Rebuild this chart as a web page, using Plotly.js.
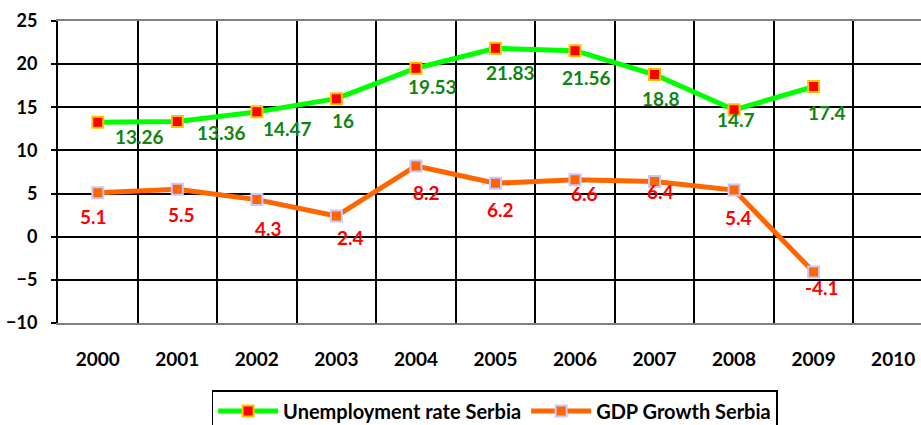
<!DOCTYPE html>
<html>
<head>
<meta charset="utf-8">
<script src="https://cdn.plot.ly/plotly-3.0.1.min.js"></script>
<style>html,body{margin:0;padding:0;overflow:hidden;background:#fff}</style>
</head>
<body>
<div id="chart" style="width:921px;height:425px"></div>
<script>
// ---- data ----
const years = ["2000","2001","2002","2003","2004","2005","2006","2007","2008","2009","2010"];
const unemploymentYears = ["2000","2001","2002","2003","2004","2005","2006","2007","2008","2009"];
const unemploymentRate = [13.26, 13.36, 14.47, 16, 19.53, 21.83, 21.56, 18.8, 14.7, 17.4];
const gdpYears = ["2000","2001","2002","2003","2004","2005","2006","2007","2008","2009"];
const gdpGrowth = [5.1, 5.5, 4.3, 2.4, 8.2, 6.2, 6.6, 6.4, 5.4, -4.1];
const seriesNames = ["Unemployment rate Serbia", "GDP Growth Serbia"];

// ---- label offsets (style, px) ----
const uShiftX = [42, 44, 31, 7, 17, 15, 11, 6, 2, 13];
const uShiftY = [14, 11, 17, 22, 18, 24, 27, 24, 10, 26];
const gShiftX = [-4, 4, 12, 14, 11, 5, 9, 6, 4, 8];
const gShiftY = [24, 25, 29, 21, 27, 26, 14, 10, 27, 15];

const FONT = "Lato, Open Sans, DejaVu Sans, sans-serif";

const traces = [
  {
    type: "scatter", mode: "lines+markers", name: seriesNames[0],
    x: unemploymentYears, y: unemploymentRate,
    line: {color: "#00FF00", width: 5},
    marker: {symbol: "square", size: 11, color: "#FF0000", line: {color: "#FFC000", width: 2}}
  },
  {
    type: "scatter", mode: "lines+markers", name: seriesNames[1],
    x: gdpYears, y: gdpGrowth,
    line: {color: "#FF6600", width: 5},
    marker: {symbol: "square", size: 11, color: "#FF6600", line: {color: "#C8C8FF", width: 2}}
  }
];

// category axis: annotations need the category index
const annotations = [];
unemploymentRate.forEach(function (v, i) {
  annotations.push({
    xref: "x", yref: "y",
    x: years.indexOf(unemploymentYears[i]), y: v, text: String(v), showarrow: false,
    xanchor: "center", yanchor: "middle", xshift: uShiftX[i], yshift: -uShiftY[i],
    font: {family: FONT, size: 19, color: "#108510", weight: 700}
  });
});
gdpGrowth.forEach(function (v, i) {
  annotations.push({
    xref: "x", yref: "y",
    x: years.indexOf(gdpYears[i]), y: v, text: String(v), showarrow: false,
    xanchor: "center", yanchor: "middle", xshift: gShiftX[i], yshift: -gShiftY[i],
    font: {family: FONT, size: 19, color: "#FF0000", weight: 700}
  });
});

const layout = {
  width: 921, height: 425,
  margin: {l: 58, r: 0, t: 21, b: 102, pad: 0, autoexpand: false},
  paper_bgcolor: "#ffffff", plot_bgcolor: "#ffffff",
  font: {family: FONT, color: "#000", weight: 700},
  showlegend: true,
  legend: {
    orientation: "h", x: 0.178, xanchor: "left", y: -0.222, yanchor: "top",
    bordercolor: "#000", borderwidth: 1.5, bgcolor: "#fff",
    font: {family: FONT, size: 20, color: "#000", weight: 700},
    itemwidth: 60, tracegroupgap: 0
  },
  xaxis: {
    type: "category", categoryorder: "array", categoryarray: years,
    tickvals: years, ticktext: years,
    range: [-0.5, 10.35], tickson: "boundaries",
    showgrid: true, gridcolor: "#000", gridwidth: 2,
    showline: true, linecolor: "#808080", linewidth: 2, mirror: true,
    ticks: "", ticklabelstandoff: 18,
    tickfont: {family: FONT, size: 19, color: "#000", weight: 700},
    fixedrange: true
  },
  yaxis: {
    range: [-10, 25], dtick: 5, tick0: 0,
    showgrid: true, gridcolor: "#000", gridwidth: 2, zeroline: false,
    showline: true, linecolor: "#000", linewidth: 2,
    ticks: "outside", ticklen: 5, tickwidth: 2, tickcolor: "#000",
    ticklabelstandoff: 10,
    tickfont: {family: FONT, size: 18, color: "#000", weight: 700},
    fixedrange: true
  },
  annotations: annotations
};

Plotly.newPlot("chart", traces, layout, {displayModeBar: false, staticPlot: true});
</script>
</body>
</html>
